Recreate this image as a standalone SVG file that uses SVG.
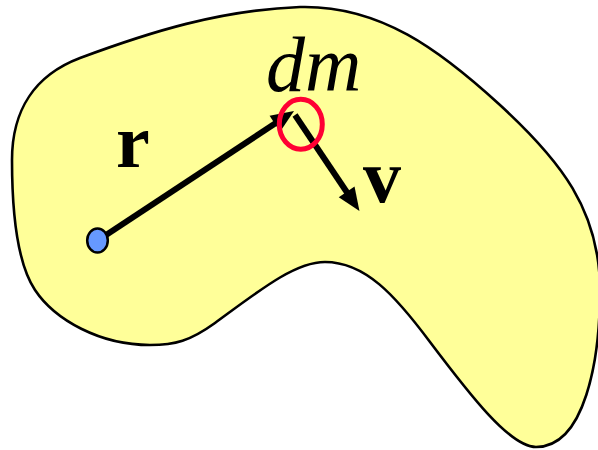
<svg xmlns="http://www.w3.org/2000/svg" width="598" height="450" viewBox="0 0 598 450">
  <style>
    .body { fill: #FFFF99; stroke: #000; stroke-width: 2.6; }
    .vec { stroke: #000; stroke-width: 6; fill: none; }
    .lbl { font-family: "Liberation Serif", "Times New Roman", serif; fill: #000; }
  </style>
  <defs>
    <marker id="ah" markerUnits="userSpaceOnUse" markerWidth="24" markerHeight="20" refX="8" refY="9.5" orient="auto" overflow="visible">
      <path d="M0,0 L23,9.5 L0,19 Z" fill="#000"/>
    </marker>
  </defs>
  <g id="body">
    <path class="body" d="M300,7 C380,5 440,50 500,105 C560,160 600,210 600,290 C600,360 585,447 536,447 C510,447 470,395 430,342 C395,295 365,262 325,262 C295,262 260,290 215,323 C190,341 175,345 150,345 C100,345 55,320 35,290 C15,260 12,200 12,160 C12,110 35,75 80,58 C150,32 220,10 300,7 Z"/>
  </g>
  <g id="connectors">
    <line class="vec" x1="100" y1="239" x2="281.5" y2="119.3" marker-end="url(#ah)"/>
    <line class="vec" x1="295" y1="115" x2="351.1" y2="198.5" marker-end="url(#ah)"/>
  </g>
  <g id="origin">
    <ellipse cx="97.5" cy="240.5" rx="10.3" ry="12" fill="#6699FF" stroke="#000" stroke-width="2.5"/>
  </g>
  <g id="dm">
    <ellipse cx="300.8" cy="124.3" rx="21.5" ry="25" fill="none" stroke="#FF0033" stroke-width="5"/>
    <text class="lbl" x="266" y="91" font-size="78" font-style="italic">dm</text>
  </g>
  <g id="r-label">
    <text class="lbl" x="116" y="167" font-size="76" font-weight="bold">r</text>
  </g>
  <g id="v-label">
    <text class="lbl" x="363" y="202" font-size="76" font-weight="bold">v</text>
  </g>
</svg>
